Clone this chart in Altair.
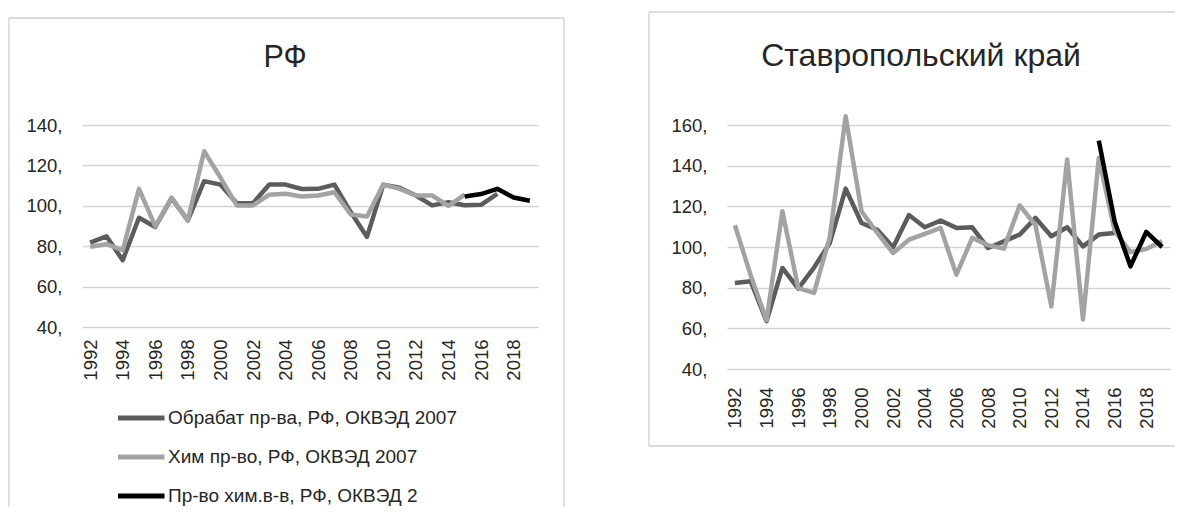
import altair as alt
import pandas as pd

FONT = "Liberation Sans"
TXT = "#262626"
GRID = "#d4d4d4"

years = list(range(1992, 2020))

series = [
    "Обрабат пр-ва, РФ, ОКВЭД 2007",
    "Хим пр-во, РФ, ОКВЭД 2007",
    "Пр-во хим.в-в, РФ, ОКВЭД 2",
]
colors = ["#5c5c5c", "#a3a3a3", "#000000"]

# ---- РФ ----
rf_manuf = [81.8, 84.9, 73.1, 94.1, 89.5, 103.8, 92.8, 112.2, 110.5, 101.3,
            101.3, 110.5, 110.5, 108.3, 108.4, 110.5, 96.9, 84.6, 110.5, 108.9,
            105.1, 100.2, 101.8, 100.3, 100.5, 105.9, None, None]
rf_chem = [79.7, 81.0, 78.0, 108.4, 89.8, 104.0, 92.8, 127.0, 114.0, 100.2,
           100.2, 105.5, 106.0, 104.6, 105.1, 106.7, 95.7, 94.7, 110.5, 108.4,
           105.1, 105.1, 100.0, 105.5, None, None, None, None]
rf_chem2 = [None] * 23 + [104.6, 105.8, 108.4, 104.1, 102.5]

# ---- Ставропольский край ----
st_manuf = [82.3, 83.1, 63.5, 89.7, 79.5, 89.9, 102.0, 128.7, 111.8, 108.5,
            99.9, 115.7, 109.7, 113.0, 109.4, 109.7, 99.5, 102.8, 106.1, 114.3,
            105.3, 109.7, 100.3, 106.1, 106.9, None, None, None]
st_chem = [110.7, 86.0, 64.0, 117.6, 79.8, 77.4, 105.0, 164.3, 117.6, 106.9,
           97.0, 103.6, 106.5, 109.4, 86.4, 104.5, 100.9, 99.2, 120.5, 110.7,
           70.8, 143.0, 64.3, 143.8, 108.0, 97.5, 99.0, 103.0]
st_chem2 = [None] * 23 + [152.3, 112.6, 90.5, 107.4, 100.0]

rf_ticks = [40, 60, 80, 100, 120, 140]
st_ticks = [40, 60, 80, 100, 120, 140, 160]
x_labels = list(range(1992, 2019, 2))


def long_df(cols):
    rows = []
    for name, vals in zip(series, cols):
        for y, v in zip(years, vals):
            if v is not None:
                rows.append({"year": y, "series": name, "value": v})
    return pd.DataFrame(rows)


cscale = alt.Scale(domain=series, range=colors)
one = alt.Data(values=[{"k": 1}])


def frame_rule(**enc):
    return alt.Chart(one).mark_rule(color="#d0d0d0", strokeWidth=1.3).encode(**enc)


def panel(df, ydom, yticks, width, height, xlabpad, title, tx, ty, tsize,
          frame, legend=False):
    lines = alt.Chart(df).mark_line(strokeWidth=4.5, strokeJoin="round").encode(
        x=alt.X("year:O", title=None,
                scale=alt.Scale(type="point", padding=0.5, domain=years),
                axis=alt.Axis(values=x_labels, labelAngle=-90, labelPadding=xlabpad,
                              domain=False, ticks=False, grid=False,
                              labelFont=FONT, labelFontSize=18.5, labelColor=TXT)),
        y=alt.Y("value:Q", title=None,
                scale=alt.Scale(domain=ydom, nice=False, zero=False),
                axis=alt.Axis(values=yticks, labelExpr="datum.value + ','",
                              domain=False, ticks=False, grid=True,
                              gridColor=GRID, gridWidth=1.5, labelPadding=20,
                              labelFont=FONT, labelFontSize=18.5, labelColor=TXT)),
        color=alt.Color("series:N", scale=cscale, legend=None),
    )
    ttl = alt.Chart(one).mark_text(font=FONT, fontSize=tsize, color=TXT,
                                   align="center", baseline="middle").encode(
        x=alt.value(tx), y=alt.value(ty), text=alt.value(title))
    x0, x1, y0, y1, open_side = frame
    rules = [frame_rule(x=alt.value(x0), x2=alt.value(x1), y=alt.value(y0)),
             frame_rule(x=alt.value(x0), y=alt.value(y0), y2=alt.value(y1))]
    if open_side == "bottom":
        rules.append(frame_rule(x=alt.value(x1), y=alt.value(y0), y2=alt.value(y1)))
    else:
        rules.append(frame_rule(x=alt.value(x0), x2=alt.value(x1), y=alt.value(y1)))
    layers = [lines, ttl] + rules
    if legend:
        leg_df = pd.DataFrame({"series": series, "row": [0, 1, 2]})
        rscale = alt.Scale(domain=[0, 2], range=[293, 371])
        leg_rule = alt.Chart(leg_df).mark_rule(strokeWidth=5).encode(
            x=alt.value(36), x2=alt.value(82.5),
            y=alt.Y("row:Q", scale=rscale, axis=None),
            color=alt.Color("series:N", scale=cscale, legend=None))
        leg_txt = alt.Chart(leg_df).mark_text(
            align="left", baseline="middle", font=FONT, fontSize=19, color=TXT).encode(
            x=alt.value(86),
            y=alt.Y("row:Q", scale=rscale, axis=None),
            text="series:N")
        layers += [leg_rule, leg_txt]
    return alt.layer(*layers).resolve_scale(y="independent").properties(
        width=width, height=height)


left = panel(long_df([rf_manuf, rf_chem, rf_chem2]), [40, 140], rf_ticks,
             456, 202, 12, "РФ", 203, -67, 30.5,
             (-73, 482, -107, 382, "bottom"), legend=True)
right = panel(long_df([st_manuf, st_chem, st_chem2]), [40, 160], st_ticks,
              443, 244, 18, "Ставропольский край", 194, -69, 32,
              (-78, 448, -113, 321, "right"))

chart = alt.hconcat(left, right, spacing=83).properties(
    padding={"left": 0, "top": 3, "right": 0, "bottom": 0},
    background="white",
).configure_view(stroke=None)

chart.save("out.html", embed_options={"renderer": "svg", "actions": False})
